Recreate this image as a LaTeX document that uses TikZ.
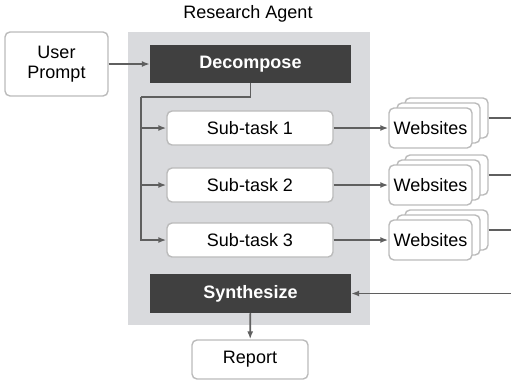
\documentclass[tikz,border=0pt]{standalone}
\usepackage{fontspec}
\setmainfont{Liberation Sans}
\usepackage{xcolor}
\usepackage{tikz}
\usetikzlibrary{arrows.meta}
\usetikzlibrary{positioning}

\definecolor{panel}{HTML}{D9DADD}
\definecolor{darkfill}{HTML}{404040}
\definecolor{wire}{HTML}{5F5F5F}
\definecolor{rim}{HTML}{BBBBBB}

\begin{document}
\begin{tikzpicture}[
  x=1pt,y=-1pt,
  every node/.style={font=\fontsize{18}{20.5}\selectfont,inner sep=0pt},
  softbox/.style={draw=rim,fill=white,rounded corners=5pt,line width=1.4pt},
  darkbox/.style={fill=darkfill,text=white,font=\fontsize{18}{20.5}\selectfont\bfseries,
    minimum width=201pt,minimum height=38pt},
  taskbox/.style={softbox,minimum width=166pt,minimum height=34pt},
  webbox/.style={softbox,minimum width=83pt,minimum height=40pt},
  wire/.style={draw=wire,line width=1.7pt},
  arrow/.style={wire,-{Latex[length=8pt,width=6pt]}}]
\useasboundingbox (0,0) rectangle (511,381);
% agent panel
\fill[panel] (128,32) rectangle (370,325);
\node (agent) at (248,14) {Research Agent};

\node[softbox,minimum width=103pt,minimum height=64pt,align=center] (user) at (56.5,64) {User\\Prompt};
\node[darkbox] (dec) at (250.5,64) {Decompose};
\node[taskbox] (sub1) at (250,128) {Sub-task 1};
\node[taskbox] (sub2) at (250,185) {Sub-task 2};
\node[taskbox] (sub3) at (250,240) {Sub-task 3};
\node[darkbox,minimum height=39pt] (syn) at (250.5,293.5) {Synthesize};
\node[softbox,minimum width=116pt,minimum height=39pt] (report) at (250,359.5) {Report};

% stacked websites
\foreach \i/\y in {1/128,2/185,3/240}{
  \node[webbox] (web\i c) at (446.5,\y-10) {};
  \node[webbox] (web\i b) at (438.5,\y-5) {};
  \node[webbox] (web\i) at (430.5,\y) {Websites};
  \coordinate (out\i) at (511,\y-10);
  \draw[wire] (web\i c.east) -- (out\i);
  \draw[arrow] (sub\i.east) -- (web\i.west);
}

\coordinate (bus) at (141,97);
\coordinate (back) at (511,293.5);

\draw[arrow] (user) -- (dec);
\draw[wire] (dec.south) |- (bus);
\draw[arrow] (bus) |- (sub1.west);
\draw[arrow] (bus) |- (sub2.west);
\draw[arrow] (bus) |- (sub3.west);
\draw[arrow] (back) -- (syn.east);
\draw[arrow] (syn) -- (report);
\end{tikzpicture}
\end{document}
